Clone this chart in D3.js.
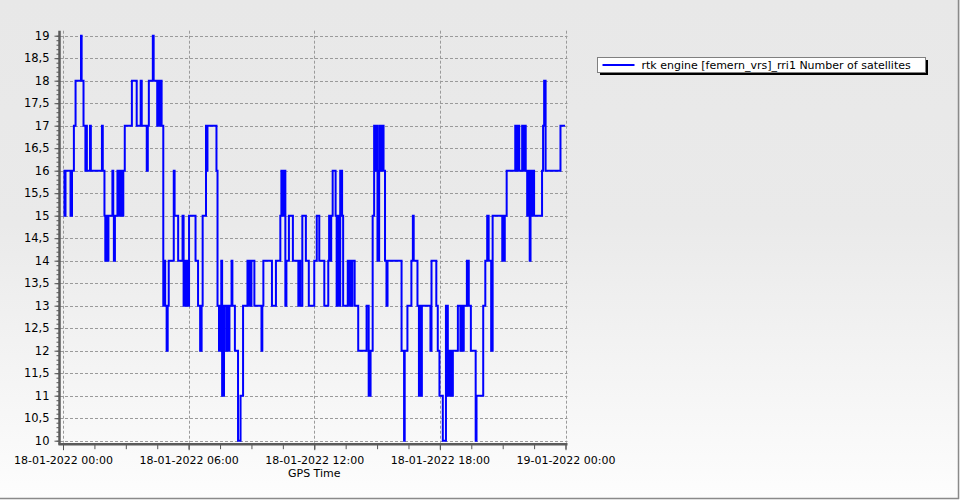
<!DOCTYPE html>
<html>
<head>
<meta charset="utf-8">
<script src="https://cdn.jsdelivr.net/npm/d3@7"></script>
<style>
html,body{margin:0;padding:0;background:#fff;}
svg{display:block;}
text{font-family:"DejaVu Sans",Verdana,sans-serif;}
</style>
</head>
<body>
<svg id="chart" width="960" height="500"></svg>
<script>
// ---- data (hours after 18-01-2022 00:00, value from that moment on) ----
const seriesName = "rtk engine [femern_vrs]_rri1 Number of satellites";
const xAxisTitle = "GPS Time";
const xTickLabels = ["18-01-2022 00:00","18-01-2022 06:00","18-01-2022 12:00","18-01-2022 18:00","19-01-2022 00:00"];
const xTickHours = [0, 6, 12, 18, 24];
const yTicks = [10,10.5,11,11.5,12,12.5,13,13.5,14,14.5,15,15.5,16,16.5,17,17.5,18,18.5,19];

const stepHours = [
 0.02,0.07,0.12,0.36,0.43,0.52,0.60,0.86,0.89,0.98,1.07,1.10,1.14,1.29,1.33,1.86,1.90,1.98,2.02,2.07,
 2.12,2.17,2.36,2.40,2.43,2.48,2.60,2.64,2.69,2.74,2.79,2.83,2.88,2.95,3.29,3.52,3.71,3.76,4.00,4.05,
 4.10,4.29,4.33,4.50,4.55,4.60,4.64,4.71,4.79,4.83,4.88,4.95,5.00,5.05,5.29,5.33,5.50,5.71,5.76,5.83,
 5.90,5.95,6.00,6.02,6.33,6.45,6.55,6.62,6.67,6.83,6.87,6.90,7.33,7.38,7.45,7.52,7.56,7.60,7.69,7.79,
 7.83,7.90,7.95,8.05,8.09,8.21,8.36,8.48,8.60,8.81,8.86,8.90,8.95,9.00,9.14,9.48,9.52,9.57,9.98,10.17,
 10.38,10.43,10.48,10.55,10.62,10.67,10.79,10.98,11.24,11.29,11.33,11.43,11.60,11.74,12.00,12.12,12.24,12.48,12.67,12.71,
 12.76,12.81,12.88,13.02,13.07,13.12,13.17,13.24,13.33,13.38,13.60,13.69,13.74,13.79,13.82,13.93,14.10,14.50,14.60,14.69,
 14.79,14.86,14.90,14.95,15.02,15.10,15.12,15.21,15.26,15.31,15.38,15.45,15.50,16.17,16.29,16.32,16.45,16.64,16.71,16.75,
 16.93,17.00,17.05,17.08,17.14,17.55,17.60,17.83,17.90,17.98,18.14,18.29,18.38,18.43,18.48,18.52,18.57,18.62,18.86,18.98,
 19.02,19.07,19.14,19.29,19.38,19.48,19.71,19.75,20.07,20.17,20.26,20.33,20.45,20.52,20.98,21.00,21.05,21.10,21.19,21.60,
 21.64,21.71,21.79,21.93,21.98,22.02,22.10,22.17,22.24,22.29,22.33,22.38,22.43,22.50,22.88,22.93,22.98,23.05,23.76,23.98
];
const stepValues = [
 16,15,16,15,16,17,18,19,18,17,16,17,16,17,16,17,16,15,14,15,
 14,15,16,15,14,15,16,15,16,15,16,15,16,17,18,17,18,17,16,17,
 18,19,18,17,18,17,18,17,13,14,13,12,13,14,16,15,14,15,13,14,
 13,14,13,15,14,13,12,13,15,17,16,17,16,13,12,13,14,11,13,12,
 13,12,13,14,13,12,10,11,13,14,13,14,13,14,13,12,13,14,13,14,
 15,16,15,16,13,14,15,14,13,14,13,15,14,13,14,15,14,13,14,15,
 14,15,16,15,13,15,13,16,15,13,14,13,14,13,14,13,12,13,11,12,
 15,17,16,17,14,16,17,16,17,16,14,13,14,12,10,12,13,14,15,14,
 13,11,13,11,13,12,14,13,12,11,10,13,11,12,11,12,11,12,13,12,
 13,12,13,14,13,12,10,11,13,14,15,14,12,15,14,15,14,15,16,17,
 16,17,16,17,16,17,16,15,16,14,16,15,16,15,16,17,18,16,17,17
];

// ---- layout ----
const W = 960, H = 500;
const plot = {left: 63, right: 565.5, top: 35.7, bottom: 440.7};
const svg = d3.select("#chart");

const defs = svg.append("defs");
const grad = defs.append("linearGradient").attr("id","bg").attr("x1",0).attr("y1",0).attr("x2",0).attr("y2",1);
grad.append("stop").attr("offset","0").attr("stop-color","#e8e8e8");
grad.append("stop").attr("offset","0.45").attr("stop-color","#eaeaea");
grad.append("stop").attr("offset","1").attr("stop-color","#fdfdfd");
svg.append("rect").attr("width",W).attr("height",H).attr("fill","url(#bg)");
// outer frame right/bottom
svg.append("line").attr("x1",958.5).attr("x2",958.5).attr("y1",0).attr("y2",499).attr("stroke","#8a8a8a").attr("stroke-width",1.5);
svg.append("line").attr("x1",0).attr("x2",959).attr("y1",498.5).attr("y2",498.5).attr("stroke","#8a8a8a").attr("stroke-width",1.5);

const x = d3.scaleLinear().domain([0,24]).range([plot.left, plot.right]);
const y = d3.scaleLinear().domain([10,19]).range([plot.bottom, plot.top]);

const loc = d3.formatLocale({decimal:",", thousands:".", grouping:[3], currency:["","€"]});
const yFmt = v => loc.format("~g")(v);

// gridlines
const grid = svg.append("g").attr("stroke","#9a9a9a").attr("stroke-width",1).attr("stroke-dasharray","3,2").attr("fill","none");
grid.selectAll("line.h").data(yTicks).join("line").attr("class","h")
  .attr("x1",plot.left-3).attr("x2",plot.right+2)
  .attr("y1",d=>Math.round(y(d))+0.5).attr("y2",d=>Math.round(y(d))+0.5);
grid.selectAll("line.v").data(xTickHours).join("line").attr("class","v")
  .attr("x1",d=>Math.round(x(d))+0.5).attr("x2",d=>Math.round(x(d))+0.5)
  .attr("y1",plot.top-5).attr("y2",plot.bottom+2);

// Y axis
const yAxisG = svg.append("g").attr("transform",`translate(${plot.left-3.5},0)`);
yAxisG.call(d3.axisLeft(y).tickValues(d3.range(100,191,1).map(d=>d/10)).tickSize(3).tickFormat(""));
yAxisG.call(g=>g.select(".domain").remove());
const yMajor = svg.append("g").attr("transform",`translate(${plot.left-3.5},0)`)
  .call(d3.axisLeft(y).tickValues(yTicks).tickSize(5).tickPadding(5).tickFormat(yFmt));
yMajor.select(".domain").remove();
yMajor.selectAll("text").attr("font-size","11.5px").attr("fill","#000").attr("font-family","DejaVu Sans, Verdana, sans-serif");
svg.selectAll(".tick line").attr("stroke","#555");
svg.append("line").attr("x1",plot.left-3.5).attr("x2",plot.left-3.5).attr("y1",plot.top-5).attr("y2",plot.bottom+4)
  .attr("stroke","#5a5a5a").attr("stroke-width",2.5);

// X axis
const xAxisY = plot.bottom + 3.5;
const xMinor = svg.append("g").attr("transform",`translate(0,${xAxisY})`)
  .call(d3.axisBottom(x).tickValues(d3.range(0,24.01,1.5)).tickSize(5).tickFormat(""));
xMinor.select(".domain").remove();
xMinor.selectAll(".tick line").attr("stroke","#555");
const xMajor = svg.append("g").attr("transform",`translate(0,${xAxisY})`)
  .call(d3.axisBottom(x).tickValues(xTickHours).tickSize(6).tickPadding(6).tickFormat((d,i)=>xTickLabels[i]));
xMajor.select(".domain").remove();
xMajor.selectAll(".tick line").attr("stroke","#555");
xMajor.selectAll("text").attr("font-size","11px").attr("fill","#000").attr("font-family","DejaVu Sans, Verdana, sans-serif");
svg.append("line").attr("x1",plot.left-4.5).attr("x2",plot.right+2).attr("y1",xAxisY).attr("y2",xAxisY)
  .attr("stroke","#5a5a5a").attr("stroke-width",2.5);

svg.append("text").attr("x",(plot.left+plot.right)/2).attr("y",477).attr("text-anchor","middle")
  .attr("font-size","11px").attr("fill","#000").text(xAxisTitle);

// series
const pts = stepHours.map((h,i)=>[h, stepValues[i]]);
const line = d3.line().x(d=>x(d[0])).y(d=>y(d[1])).curve(d3.curveStepAfter);
svg.append("path").datum(pts).attr("d",line).attr("fill","none")
  .attr("stroke","#0000ff").attr("stroke-width",2).attr("stroke-linejoin","miter");

// legend
const lg = svg.append("g").attr("transform","translate(597.5,57.5)");
const lgW = 328, lgH = 15;
lg.append("rect").attr("x",2.5).attr("y",2.5).attr("width",lgW).attr("height",lgH).attr("fill","#000");
lg.append("rect").attr("width",lgW).attr("height",lgH).attr("fill","#fff").attr("stroke","#808080").attr("stroke-width",1);
lg.append("line").attr("x1",5).attr("x2",37).attr("y1",7.5).attr("y2",7.5).attr("stroke","#0000ff").attr("stroke-width",2);
lg.append("text").attr("x",44).attr("y",11.5).attr("font-size","11px").attr("fill","#000").text(seriesName);
</script>
</body>
</html>
